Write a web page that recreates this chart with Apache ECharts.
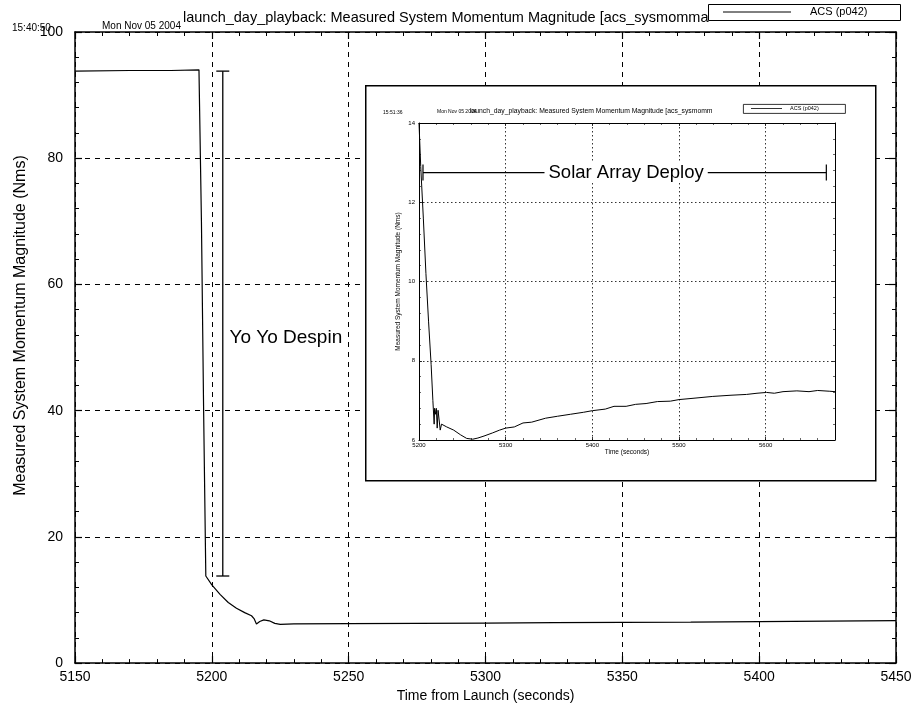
<!DOCTYPE html>
<html><head><meta charset="utf-8">
<script src="https://cdn.jsdelivr.net/npm/echarts@6/dist/echarts.min.js"></script>
<style>html,body{margin:0;padding:0;background:#fff}#c{width:919px;height:708px}</style>
</head><body><div id="c"></div>
<script>
// ---- main plot data (Time from Launch, seconds ; momentum Nms)
const mainTime = [5150,5170,5185,5195.3,5196.2,5197.0,5197.8,5200,5203,5206,5209,5212,5214.5,5215.5,5216.3,5217.5,5219,5221,5223,5225,5230,5250,5275,5300,5325,5350,5375,5400,5425,5450];
const mainMomentum = [93.8,93.9,93.9,94.0,70,40,13.8,12.4,10.9,9.6,8.7,8.0,7.5,7.0,6.2,6.6,6.85,6.7,6.3,6.15,6.2,6.25,6.3,6.35,6.4,6.45,6.5,6.58,6.65,6.72];
// ---- inset plot data
const insetTime = [5200,5202,5205,5208,5211,5214,5216,5217.5,5218,5219,5220,5221,5222,5223.5,5224.5,5226,5228,5232,5240,5248,5255,5262,5268,5275,5285,5293,5300,5310,5320,5330,5346,5360,5375,5390,5400,5415,5425,5439,5450,5462,5475,5490,5500,5515,5539,5560,5578,5590,5601,5610,5620,5636,5650,5660,5674,5680];
const insetMomentum = [14.0,12.9,11.6,10.2,9.0,7.9,7.0,6.4,6.8,6.65,6.8,6.3,6.75,6.7,6.25,6.4,6.42,6.33,6.25,6.13,6.04,6.02,6.05,6.1,6.18,6.25,6.3,6.33,6.43,6.45,6.55,6.6,6.65,6.7,6.74,6.78,6.85,6.85,6.9,6.92,6.97,6.98,7.02,7.05,7.1,7.13,7.15,7.18,7.2,7.18,7.22,7.24,7.22,7.25,7.23,7.22];
// ---- annotations
const yoyoBar = [5204, 13.8, 93.8];       // x, low, high
const yoyoLabel = [5205, 51.5, 'Yo Yo Despin'];
const solarBar = [5204.6, 5670, 12.75];   // x start, x end, y
const solarLabel = [5439, 12.75, 'Solar Array Deploy'];
// ---- ticks
const mainX = {min:5150, max:5450, step:50};
const mainY = {min:0, max:100, step:20};
const insetX = {min:5200, max:5680, step:100};
const insetY = {min:6, max:14, step:2};

const zip = (a,b) => a.map((v,i)=>[v,b[i]]);
const F = 'Liberation Sans, Arial, Helvetica, sans-serif';

function axisX(grid, r, pos, big, labels, z, showMax){
  return {type:'value', gridIndex:grid, position:pos, min:r.min, max:r.max, interval:r.step, z:z,
    axisLine:{onZero:false, lineStyle:{color:'#000', width: big?1.5:1}},
    axisTick:{show:true, inside:true, length: big?7:3, lineStyle:{color:'#000', width: big?1.2:0.8}},
    minorTick:{show:true, splitNumber:5, length: big?4:2, lineStyle:{color:'#000', width: big?1:0.6}},
    axisLabel:{show:labels, color:'#000', fontFamily:F, fontSize: big?14:6, margin: big?7:2, showMaxLabel: showMax, hideOverlap:false, formatter: v => String(v)},
    splitLine:{show:labels, lineStyle:{color:'#000', type: big?[5,5]:[1.5,2.5], width: big?1:0.8}}};
}
function axisY(grid, r, pos, big, labels, z){
  const a = axisX(grid, r, pos, big, labels, z, true);
  a.axisLabel.margin = big?12:4;
  return a;
}
const xa0 = axisX(0, mainX, 'bottom', true, true, 0, true);
xa0.name = 'Time from Launch (seconds)'; xa0.nameLocation='middle'; xa0.nameGap=24;
xa0.nameTextStyle = {color:'#000', fontFamily:F, fontSize:14};
const xa1 = axisX(0, mainX, 'top', true, false, 0, true);
const xa2 = axisX(1, insetX, 'bottom', false, true, 10, false);
xa2.name='Time (seconds)'; xa2.nameLocation='middle'; xa2.nameGap=9;
xa2.nameTextStyle={color:'#000', fontFamily:F, fontSize:6.5};
const xa3 = axisX(1, insetX, 'top', false, false, 10, false);
const ya0 = axisY(0, mainY, 'left', true, true, 0);
ya0.name='Measured System Momentum Magnitude (Nms)'; ya0.nameLocation='middle'; ya0.nameGap=44;
ya0.nameTextStyle={color:'#000', fontFamily:F, fontSize:16, padding:[0,0,0,44]};
const ya1 = axisY(0, mainY, 'right', true, false, 0);
const ya2 = axisY(1, insetY, 'left', false, true, 10);
ya2.name='Measured System Momentum Magnitude (Nms)'; ya2.nameLocation='middle'; ya2.nameGap=17;
ya2.nameTextStyle={color:'#000', fontFamily:F, fontSize:6.5};
const ya3 = axisY(1, insetY, 'right', false, false, 10);

function ibeamV(params, api){
  const x = api.value(0), lo = api.value(1), hi = api.value(2);
  const p1 = api.coord([x, hi]), p2 = api.coord([x, lo]);
  const w = 6.5, st = {stroke:'#000', lineWidth:1.3};
  return {type:'group', children:[
    {type:'line', shape:{x1:p1[0], y1:p1[1], x2:p2[0], y2:p2[1]}, style:st},
    {type:'line', shape:{x1:p1[0]-w, y1:p1[1], x2:p1[0]+w, y2:p1[1]}, style:st},
    {type:'line', shape:{x1:p2[0]-w, y1:p2[1], x2:p2[0]+w, y2:p2[1]}, style:st}]};
}
function ibeamH(params, api){
  const x1 = api.value(0), x2 = api.value(1), y = api.value(2);
  const p1 = api.coord([x1, y]), p2 = api.coord([x2, y]);
  const h = 8, st = {stroke:'#000', lineWidth:1.2};
  return {type:'group', children:[
    {type:'line', shape:{x1:p1[0], y1:p1[1], x2:p2[0], y2:p2[1]}, style:st},
    {type:'line', shape:{x1:p1[0], y1:p1[1]-h, x2:p1[0], y2:p1[1]+h}, style:st},
    {type:'line', shape:{x1:p2[0], y1:p2[1]-h, x2:p2[0], y2:p2[1]+h}, style:st}]};
}
const textData = {yoyo: yoyoLabel[2], solar: solarLabel[2]};
function textItem(align, bg, size){
  return function(params, api){
    const p = api.coord([api.value(0), api.value(1)]);
    return {type:'text', x:p[0], y:p[1], style:{text: textData[params.seriesName], font:size+'px '+F, fill:'#000', align:align, verticalAlign:'middle', backgroundColor:bg, padding:[0,4]}};
  };
}

const chart = echarts.init(document.getElementById('c'), null, {renderer:'canvas'});
chart.setOption({
  animation:false, backgroundColor:'#fff',
  grid:[{left:75, right:23, top:32, bottom:39},
        {left:419, top:123, width:416, height:317}],
  xAxis:[xa0, xa1, xa2, xa3],
  yAxis:[ya0, ya1, ya2, ya3],
  graphic:[
    {type:'text', left:12, top:23, style:{text:'15:40:50', font:'10px '+F, fill:'#000'}},
    {type:'text', left:102, top:21, style:{text:'Mon Nov 05 2004', font:'10px '+F, fill:'#000'}},
    {type:'text', left:183, top:10, style:{text:'launch_day_playback: Measured System Momentum Magnitude [acs_sysmomma', font:'14.5px '+F, fill:'#000'}},
    {type:'rect', left:708, top:4, shape:{width:192, height:16}, style:{fill:'#fff', stroke:'#000', lineWidth:1}, z:5},
    {type:'line', shape:{x1:723, y1:12, x2:791, y2:12}, style:{stroke:'#000', lineWidth:1}, z:6},
    {type:'text', left:810, top:6, style:{text:'ACS (p042)', font:'11px '+F, fill:'#000'}, z:6},
    // inset frame
    {type:'rect', left:365, top:85, shape:{width:510, height:395}, style:{fill:'#fff', stroke:'#000', lineWidth:1.5}, z:3},
    {type:'text', left:383, top:110, style:{text:'15:51:36', font:'5px '+F, fill:'#000'}, z:11},
    {type:'text', left:437, top:109, style:{text:'Mon Nov 05 2004', font:'5px '+F, fill:'#000'}, z:11},
    {type:'text', left:470, top:108, style:{text:'launch_day_playback: Measured System Momentum Magnitude [acs_sysmomm', font:'6.8px '+F, fill:'#000'}, z:11},
    {type:'rect', left:743, top:104, shape:{width:102, height:9}, style:{fill:'#fff', stroke:'#000', lineWidth:0.8}, z:11},
    {type:'line', shape:{x1:751, y1:108.5, x2:782, y2:108.5}, style:{stroke:'#000', lineWidth:0.8}, z:12},
    {type:'text', left:790, top:105.5, style:{text:'ACS (p042)', font:'5.5px '+F, fill:'#000'}, z:12}
  ],
  series:[
    {type:'line', name:'ACS (p042)', xAxisIndex:0, yAxisIndex:0, data:zip(mainTime, mainMomentum), showSymbol:false, lineStyle:{color:'#000', width:1.2}, z:2},
    {type:'custom', name:'yoyoBar', xAxisIndex:0, yAxisIndex:0, renderItem:ibeamV, data:[yoyoBar], z:2},
    {type:'custom', name:'yoyo', xAxisIndex:0, yAxisIndex:0, renderItem:textItem('left', null, 19), data:[yoyoLabel.slice(0,2)], z:2},
    {type:'line', name:'ACS inset', xAxisIndex:2, yAxisIndex:2, data:zip(insetTime, insetMomentum), showSymbol:false, lineStyle:{color:'#000', width:1}, z:12},
    {type:'custom', name:'solarBar', xAxisIndex:2, yAxisIndex:2, renderItem:ibeamH, data:[solarBar], z:12},
    {type:'custom', name:'solar', xAxisIndex:2, yAxisIndex:2, renderItem:textItem('center', '#fff', 18.5), data:[solarLabel.slice(0,2)], z:13}
  ]
});
</script></body></html>
